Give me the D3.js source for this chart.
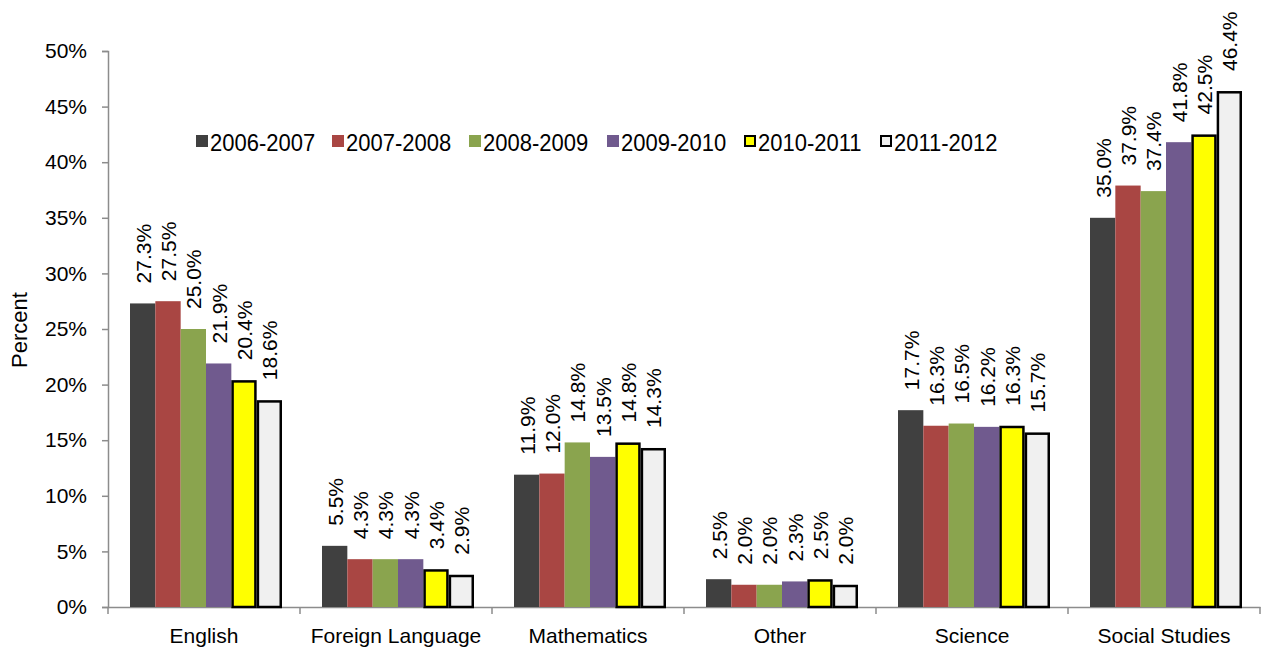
<!DOCTYPE html>
<html><head><meta charset="utf-8">
<script src="https://cdn.jsdelivr.net/npm/d3@7"></script>
<style>body{margin:0;background:#fff}svg{display:block;font-family:"Liberation Sans",Arial,sans-serif}</style>
</head><body><svg id="c" width="1263" height="654"></svg>
<script>
const categories = ["English","Foreign Language","Mathematics","Other","Science","Social Studies"];
const seriesNames = ["2006-2007","2007-2008","2008-2009","2009-2010","2010-2011","2011-2012"];
const s2006 = [27.3, 5.5, 11.9, 2.5, 17.7, 35.0];
const s2007 = [27.5, 4.3, 12.0, 2.0, 16.3, 37.9];
const s2008 = [25.0, 4.3, 14.8, 2.0, 16.5, 37.4];
const s2009 = [21.9, 4.3, 13.5, 2.3, 16.2, 41.8];
const s2010 = [20.4, 3.4, 14.8, 2.5, 16.3, 42.5];
const s2011 = [18.6, 2.9, 14.3, 2.0, 15.7, 46.4];
const yTicks = [0,5,10,15,20,25,30,35,40,45,50];
const series = [s2006,s2007,s2008,s2009,s2010,s2011];
const fills = ["#404040","#a94643","#8aa44e","#705a8e","#ffff00","#f0f0f0"];
const strokes = ["none","none","none","none","#000","#000"];

const svg = d3.select("#c");
const FF = "Liberation Sans, Arial, sans-serif";
const L=108, R=1260, T=51, B=607;
const x0 = d3.scaleBand().domain(categories).range([L,R]).paddingInner(0).paddingOuter(0);
const x1 = d3.scaleBand().domain(seriesNames).range([22, x0.bandwidth()-18]);
const y = d3.scaleLinear().domain([0,50]).range([B,T]);

// y axis
const ya = svg.append("g").attr("transform",`translate(${L},0)`)
  .call(d3.axisLeft(y).tickValues(yTicks).tickSize(6).tickFormat(d=>d+"%"));
ya.select(".domain").attr("stroke","#8c8c8c").attr("stroke-width",1.5);
ya.selectAll(".tick line").attr("stroke","#8c8c8c").attr("stroke-width",1.5);
ya.selectAll("text").attr("font-size",21).attr("fill","#000").attr("x",-21).attr("font-family",FF);

// x axis
const xa = svg.append("g").attr("transform",`translate(0,${B})`)
  .call(d3.axisBottom(x0).tickSize(0).tickSizeOuter(0));
xa.select(".domain").attr("stroke","#8c8c8c").attr("stroke-width",1.5);
xa.selectAll("text").attr("font-size",21).attr("fill","#000").attr("y",36).attr("dy",0).attr("font-family",FF);
// boundary ticks
svg.append("g").selectAll("line").data(categories.map(c=>x0(c)).concat([R]))
  .join("line").attr("x1",d=>d).attr("x2",d=>d).attr("y1",B).attr("y2",B+7)
  .attr("stroke","#8c8c8c").attr("stroke-width",1.5);

// bars
const g = svg.append("g");
categories.forEach((c,ci)=>{
  series.forEach((s,si)=>{
    const v = s[ci];
    const bx = x0(c)+x1(seriesNames[si]);
    const bw = x1.bandwidth();
    const sw = strokes[si]==="none"?0:2.5;
    g.append("rect")
      .attr("x",bx+sw/2).attr("y",y(v)+sw/2)
      .attr("width",bw-sw).attr("height",y(0)-y(v)-sw/2)
      .attr("fill",fills[si]).attr("stroke",strokes[si]).attr("stroke-width",sw);
    g.append("text")
      .attr("transform",`translate(${bx+bw/2+8},${y(v)-20}) rotate(-90)`)
      .attr("font-size",21).attr("fill","#000")
      .text(v.toFixed(1)+"%");
  });
});

// y title
svg.append("text").attr("transform","translate(27,330) rotate(-90)")
  .attr("text-anchor","middle").attr("font-size",22).text("Percent");

// legend
const lg = svg.append("g");
const lx = [196,332,469,607,744,880];
seriesNames.forEach((n,i)=>{
  const sw = strokes[i]==="none"?0:2;
  lg.append("rect").attr("x",lx[i]+sw/2).attr("y",135+sw/2).attr("width",12-sw).attr("height",12-sw)
    .attr("fill",fills[i]).attr("stroke",strokes[i]).attr("stroke-width",sw);
  lg.append("text").attr("transform",`translate(${lx[i]+14},151) scale(1,1.12)`).attr("font-size",22).text(n);
});
</script></body></html>
